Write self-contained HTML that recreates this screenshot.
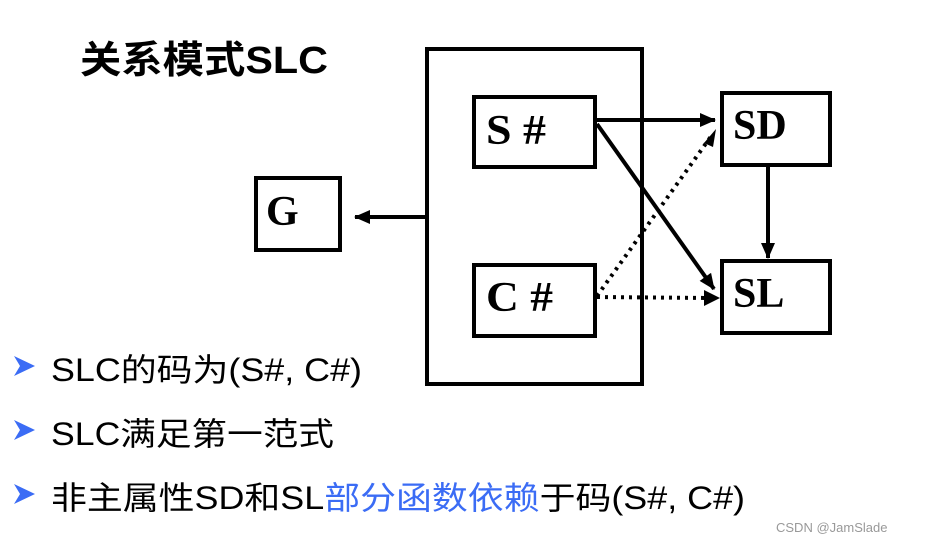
<!DOCTYPE html>
<html><head><meta charset="utf-8"><style>
html,body{margin:0;padding:0;background:#fff;width:927px;height:546px;overflow:hidden}
svg{display:block}
</style></head><body>
<svg width="927" height="546" xmlns="http://www.w3.org/2000/svg">
<defs>
<marker id="b" markerWidth="16" markerHeight="14" refX="15" refY="7" orient="auto" markerUnits="userSpaceOnUse"><path d="M0,0 L16,7 L0,14 Z" fill="#000"/></marker>
</defs>
<text x="80" y="73" font-family="Liberation Sans, Noto Sans CJK SC, sans-serif" font-weight="bold" font-size="38" textLength="248" lengthAdjust="spacingAndGlyphs">关系模式SLC</text>
<g fill="none" stroke="#000" stroke-width="4">
<rect x="427" y="49" width="215" height="335"/>
<rect x="474" y="97" width="121" height="70"/>
<rect x="474" y="265" width="121" height="71"/>
<rect x="722" y="93" width="108" height="72"/>
<rect x="722" y="261" width="108" height="72"/>
<rect x="256" y="178" width="84" height="72"/>
</g>
<g font-family="Liberation Serif, serif" font-weight="bold" font-size="42">
<text x="486" y="144" textLength="60" lengthAdjust="spacingAndGlyphs">S #</text>
<text x="486" y="311" textLength="67" lengthAdjust="spacingAndGlyphs">C #</text>
<text x="733" y="139">SD</text>
<text x="733" y="307">SL</text>
<text x="266" y="225">G</text>
</g>
<g stroke="#000" stroke-width="4">
<line x1="427" y1="217" x2="355" y2="217" marker-end="url(#b)"/>
<line x1="595" y1="120" x2="715" y2="120" marker-end="url(#b)"/>
<line x1="597" y1="124" x2="714" y2="289" marker-end="url(#b)"/>
<line x1="768" y1="166" x2="768" y2="258" marker-end="url(#b)"/>
</g>
<g stroke="#000" stroke-width="4" stroke-dasharray="3,5">
<line x1="597" y1="296" x2="712" y2="135"/>
<line x1="597" y1="297" x2="708" y2="298"/>
</g>
<path d="M704,143 L716,129 L713,147 Z" fill="#000"/>
<path d="M704,290 L720,298 L704,306 Z" fill="#000"/>
<g font-family="Liberation Sans, Noto Sans CJK SC, sans-serif" font-size="32">
<path d="M14,356 L35,366 L14,376 L20,366 Z" fill="#3b6cf5"/>
<path d="M14,420 L35,430 L14,440 L20,430 Z" fill="#3b6cf5"/>
<path d="M14,484 L35,494 L14,504 L20,494 Z" fill="#3b6cf5"/>
<text x="51" y="381" textLength="311" lengthAdjust="spacingAndGlyphs">SLC的码为(S#, C#)</text>
<text x="51" y="445" textLength="283" lengthAdjust="spacingAndGlyphs">SLC满足第一范式</text>
<text x="51" y="509" textLength="694" lengthAdjust="spacingAndGlyphs">非主属性SD和SL<tspan fill="#3b6cf5">部分函数依赖</tspan>于码(S#, C#)</text>
</g>
<text x="776" y="532" font-family="Liberation Sans, sans-serif" font-size="13" fill="#999">CSDN @JamSlade</text>
</svg>
</body></html>
